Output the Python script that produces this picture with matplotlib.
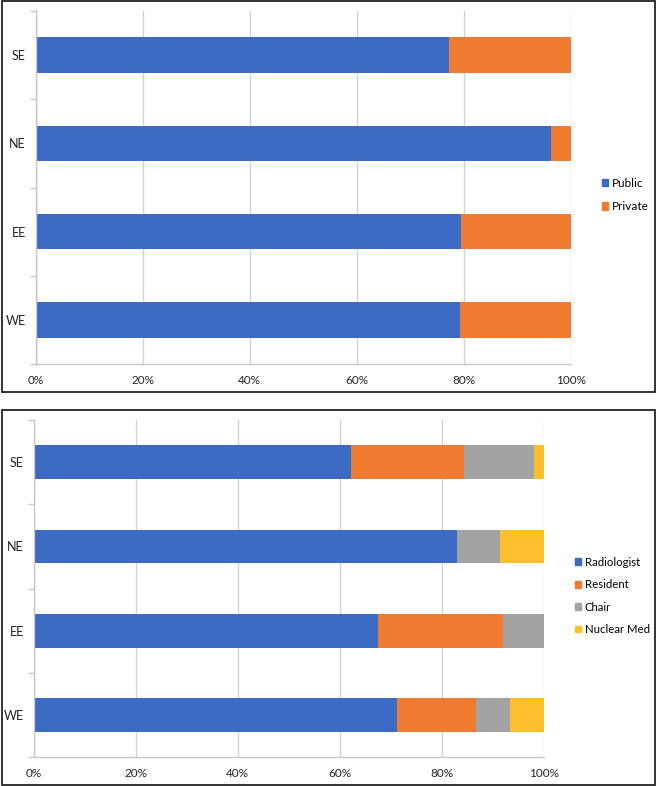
import matplotlib
matplotlib.use("Agg")
import matplotlib.pyplot as plt
from matplotlib.patches import Rectangle, Patch
import numpy as np

plt.rcParams['font.family'] = ['Lato', 'DejaVu Sans']

# ---- data ----
regions = ["WE", "EE", "NE", "SE"]          # bottom to top
sector_labels = ["Public", "Private"]
public = [0.793, 0.795, 0.962, 0.772]
private = [0.207, 0.205, 0.038, 0.228]

role_labels = ["Radiologist", "Resident", "Chair", "Nuclear Med"]
radiologist = [0.712, 0.675, 0.829, 0.622]
resident = [0.155, 0.245, 0.0, 0.221]
chair = [0.067, 0.080, 0.085, 0.138]
nuclear_med = [0.066, 0.0, 0.086, 0.019]

xticks = [0, 0.2, 0.4, 0.6, 0.8, 1.0]
xtick_labels = ["0%", "20%", "40%", "60%", "80%", "100%"]

blue = "#3C6BC3"
orange = "#F07C32"
gray = "#A3A3A3"
yellow = "#FDC02C"

W, H = 657, 786
fig = plt.figure(figsize=(W / 100, H / 100), dpi=100)


def fx(px):
    return px / W


def fy(py):
    return 1 - py / H


def style_axes(ax):
    ax.set_xlim(0, 1)
    ax.set_ylim(-0.5, 3.5)
    for s in ["top", "right"]:
        ax.spines[s].set_visible(False)
    ax.spines["left"].set_color("#C8C8C8")
    ax.spines["bottom"].set_color("#C8C8C8")
    ax.spines["left"].set_linewidth(1.0)
    ax.spines["bottom"].set_linewidth(1.0)
    ax.set_xticks(xticks)
    ax.set_xticklabels(xtick_labels)
    ax.tick_params(axis="x", length=0, pad=8, labelsize=8.5, labelcolor="#222222")
    ax.set_yticks([-0.5, 0.5, 1.5, 2.5, 3.5])
    ax.set_yticklabels([])
    ax.tick_params(axis="y", which="major", length=4, color="#C8C8C8", width=1.0)
    ax.set_yticks(np.arange(len(regions)), minor=True)
    ax.set_yticklabels(regions, minor=True)
    ax.tick_params(axis="y", which="minor", length=0, pad=7, labelsize=9, labelcolor="#222222")
    ax.grid(axis="x", color="#D3D3D3", linewidth=1.0)
    ax.set_axisbelow(True)


y = np.arange(len(regions))
bh = 0.4

# ---- top panel ----
ax1 = fig.add_axes([fx(35.6), fy(364.3), fx(571 - 35.6), (364.3 - 10.7) / H])
style_axes(ax1)
ax1.barh(y, public, height=bh, color=blue, label=sector_labels[0])
ax1.barh(y, private, left=public, height=bh, color=orange, label=sector_labels[1])
h1 = [Patch(color=blue), Patch(color=orange)]
fig.legend(h1, sector_labels, loc="center left", bbox_to_anchor=(fx(602), fy(195)),
           frameon=False, fontsize=8.5, handlelength=0.55, handleheight=0.55,
           handletextpad=0.3, labelspacing=1.05, borderpad=0, borderaxespad=0)

# ---- bottom panel ----
ax2 = fig.add_axes([fx(33.5), fy(757.3), fx(544 - 33.5), (757.3 - 420) / H])
style_axes(ax2)
left = np.zeros(len(regions))
for vals, col, lab in [(radiologist, blue, role_labels[0]), (resident, orange, role_labels[1]),
                       (chair, gray, role_labels[2]), (nuclear_med, yellow, role_labels[3])]:
    ax2.barh(y, vals, left=left, height=bh, color=col, label=lab)
    left = left + np.array(vals)
h2 = [Patch(color=c) for c in [blue, orange, gray, yellow]]
fig.legend(h2, role_labels, loc="center left", bbox_to_anchor=(fx(575), fy(596)),
           frameon=False, fontsize=8.2, handlelength=0.55, handleheight=0.55,
           handletextpad=0.3, labelspacing=1.0, borderpad=0, borderaxespad=0)

# ---- panel frames ----
fig.patches.append(Rectangle((fx(1.5), fy(391.5)), fx(655 - 1.5), (391.5 - 1) / H,
                             transform=fig.transFigure, fill=False, edgecolor="#222222",
                             linewidth=1.3))
fig.patches.append(Rectangle((fx(1.5), fy(784.5)), fx(655 - 1.5), (784.5 - 410) / H,
                             transform=fig.transFigure, fill=False, edgecolor="#222222",
                             linewidth=1.3))

fig.savefig("out.png", dpi=100)
